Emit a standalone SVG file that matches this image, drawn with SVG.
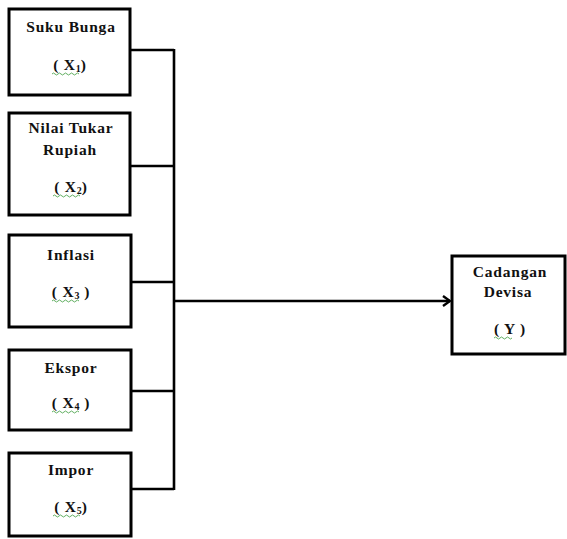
<svg xmlns="http://www.w3.org/2000/svg" width="567" height="539" viewBox="0 0 567 539">
<defs>
<style>
.box{fill:#fff;stroke:#000;stroke-width:3}
.t{font-family:"Liberation Serif","Times New Roman",serif;font-weight:bold;font-size:15.5px;letter-spacing:0.8px;fill:#111;text-anchor:middle}
.s{font-size:10px;letter-spacing:0}
.ln{fill:none;stroke:#000;stroke-width:2.6}
.wv{fill:none;stroke:#3a9a3a;stroke-width:0.8}
</style>
<marker id="ah" markerWidth="10" markerHeight="12" refX="8" refY="6" orient="auto" markerUnits="userSpaceOnUse">
<path d="M1,1 L8,6 L1,11" fill="none" stroke="#000" stroke-width="2.4"/>
</marker>
</defs>
<rect width="567" height="539" fill="#fff"/>
<g id="connectors">
<path class="ln" d="M130,50 H174 M130,166 H174 M131,282 H174 M131,391 H174 M131,489 H174 M174,49 V490"/>
<path class="ln" d="M174,301 H450" marker-end="url(#ah)"/>
</g>
<g id="x1">
<rect class="box" x="9" y="9" width="121" height="86"/>
<text class="t" x="71" y="32">Suku Bunga</text>
<text class="t" x="70" y="70">( X<tspan class="s" dy="2">1</tspan><tspan dy="-2">)</tspan></text>
<path class="wv" d="M52,74 q1.5,-2 3,0 t3,0 t3,0 t3,0 t3,0 t3,0 t3,0 t3,0 t3,0"/>
</g>
<g id="x2">
<rect class="box" x="9" y="113" width="121" height="102"/>
<text class="t" x="71" y="133">Nilai Tukar</text>
<text class="t" x="70" y="155">Rupiah</text>
<text class="t" x="71" y="192">( X<tspan class="s" dy="2">2</tspan><tspan dy="-2">)</tspan></text>
<path class="wv" d="M53,196 q1.5,-2 3,0 t3,0 t3,0 t3,0 t3,0 t3,0 t3,0 t3,0 t3,0"/>
</g>
<g id="x3">
<rect class="box" x="9" y="235" width="122" height="92"/>
<text class="t" x="71" y="260">Inflasi</text>
<text class="t" x="71" y="297">( X<tspan class="s" dy="2">3</tspan><tspan dy="-2"> )</tspan></text>
<path class="wv" d="M52,301 q1.5,-2 3,0 t3,0 t3,0 t3,0 t3,0 t3,0 t3,0 t3,0 t3,0"/>
</g>
<g id="x4">
<rect class="box" x="9" y="350" width="122" height="80"/>
<text class="t" x="71" y="373">Ekspor</text>
<text class="t" x="71" y="408">( X<tspan class="s" dy="2">4</tspan><tspan dy="-2"> )</tspan></text>
<path class="wv" d="M52,412 q1.5,-2 3,0 t3,0 t3,0 t3,0 t3,0 t3,0 t3,0 t3,0 t3,0"/>
</g>
<g id="x5">
<rect class="box" x="9" y="453" width="122" height="83"/>
<text class="t" x="71" y="475">Impor</text>
<text class="t" x="71" y="512">( X<tspan class="s" dy="2">5</tspan><tspan dy="-2">)</tspan></text>
<path class="wv" d="M53,516 q1.5,-2 3,0 t3,0 t3,0 t3,0 t3,0 t3,0 t3,0 t3,0 t3,0"/>
</g>
<g id="y">
<rect class="box" x="452" y="256" width="113" height="98"/>
<text class="t" x="510" y="277">Cadangan</text>
<text class="t" x="508" y="297">Devisa</text>
<text class="t" x="510" y="334">( Y )</text>
<path class="wv" d="M494,338 q1.5,-2 3,0 t3,0 t3,0 t3,0 t3,0 t3,0"/>
</g>
</svg>
